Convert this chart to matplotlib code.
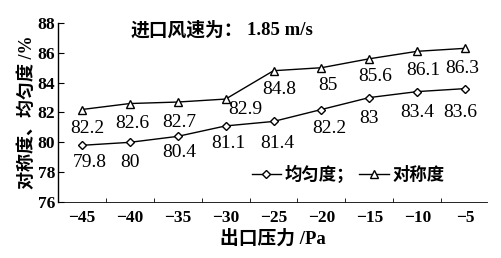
import matplotlib
matplotlib.use("Agg")
import matplotlib.pyplot as plt

pressure = [-45, -40, -35, -30, -25, -20, -15, -10, -5]
uniformity = [79.8, 80, 80.4, 81.1, 81.4, 82.2, 83, 83.4, 83.6]
symmetry = [82.2, 82.6, 82.7, 82.9, 84.8, 85, 85.6, 86.1, 86.3]
uni_labels = ["79.8", "80", "80.4", "81.1", "81.4", "82.2", "83", "83.4", "83.6"]
sym_labels = ["82.2", "82.6", "82.7", "82.9", "84.8", "85", "85.6", "86.1", "86.3"]

# label offsets in pixels
uni_off = [(8, -17), (0, -20), (2, -16), (3, -18), (4, -22),
           (8, -19), (0, -21), (0, -21), (-5, -24)]
sym_off = [(5, -19), (2, -20), (2, -20), (20, -10), (6, -19),
           (6, -18), (6, -18), (6, -19), (-3, -20)]

MIX = ["Liberation Serif", "Noto Sans CJK SC"]
CJK = ["Noto Sans CJK SC", "DejaVu Sans"]


def main():
    fig = plt.figure(figsize=(5.02, 2.58), dpi=100)
    ax = fig.add_axes([0.1155, 0.217, 0.855, 0.694])

    ax.plot(pressure, uniformity, color="black", lw=1.0, marker="D",
            ms=4, mfc="white", mec="black", mew=1.0, label="均匀度；")
    ax.plot(pressure, symmetry, color="black", lw=1.0, marker="^",
            ms=6, mfc="white", mec="black", mew=1.0, label="对称度")

    for x, y, t, o in zip(pressure, uniformity, uni_labels, uni_off):
        ax.annotate(t, (x, y), xytext=o, textcoords="offset pixels",
                    ha="center", va="center", fontsize=14,
                    family="Liberation Serif")
    for x, y, t, o in zip(pressure, symmetry, sym_labels, sym_off):
        ax.annotate(t, (x, y), xytext=o, textcoords="offset pixels",
                    ha="center", va="center", fontsize=14,
                    family="Liberation Serif")

    ax.set_xlim(-47.5, -2.7)
    ax.set_ylim(76, 88)
    ax.set_xticks(pressure)
    ax.set_xticks([p + 2.5 for p in pressure[:-1]], minor=True)
    ax.set_yticks(range(76, 89, 2))
    ax.tick_params(axis="x", which="major", length=0, pad=6)
    ax.tick_params(axis="x", which="minor", direction="in", length=3)
    ax.tick_params(axis="y", direction="in", length=4, pad=2)
    for lab in ax.get_xticklabels() + ax.get_yticklabels():
        lab.set_family("Liberation Serif")
        lab.set_fontsize(12.5)
        lab.set_fontweight("bold")

    ax.spines["top"].set_visible(False)
    ax.spines["right"].set_visible(False)
    ax.spines["left"].set_linewidth(1.0)
    ax.spines["bottom"].set_linewidth(0.6)

    ax.text(0.168, 0.958, "进口风速为：", transform=ax.transAxes,
            ha="left", va="center", fontsize=13.5, family=CJK,
            fontweight="bold")
    ax.text(0.44, 0.958, "1.85 m/s", transform=ax.transAxes,
            ha="left", va="center", fontsize=13.5,
            family="Liberation Serif", fontweight="bold")
    ax.set_xlabel("出口压力 /Pa", fontsize=13.5, family=MIX,
                  fontweight="bold", labelpad=2)
    ax.set_ylabel("对称度、均匀度 /%", fontsize=13, family=MIX,
                  fontweight="bold", labelpad=1)

    leg = ax.legend(loc="center", bbox_to_anchor=(0.676, 0.151), ncol=2,
                    frameon=False, handlelength=1.7, handletextpad=0.2,
                    columnspacing=0.3,
                    prop={"family": CJK, "size": 12.5, "weight": "bold"})
    leg.set_zorder(5)

    fig.savefig("out.png", dpi=100)


if __name__ == "__main__":
    main()
